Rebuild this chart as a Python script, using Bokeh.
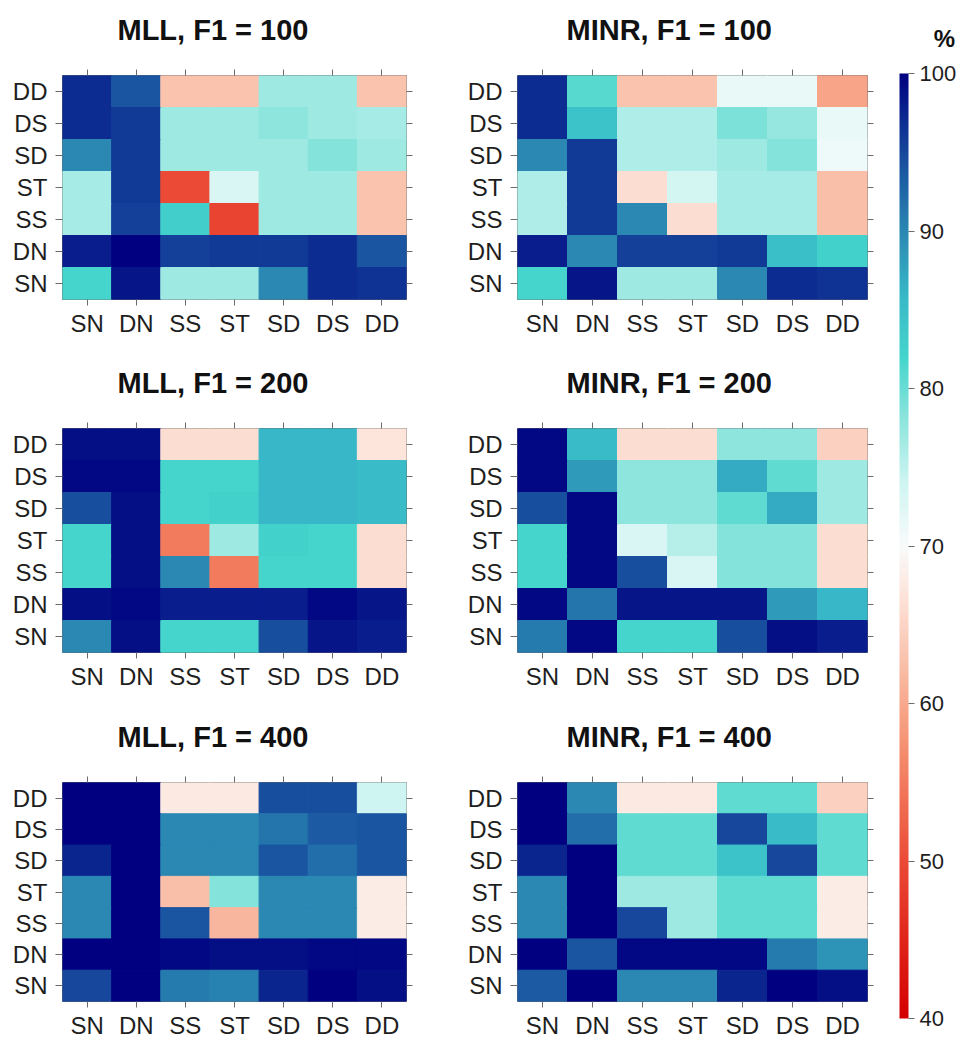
from bokeh.plotting import figure
from bokeh.models import (FactorRange, Range1d, LinearColorMapper, ColorBar,
                          FixedTicker, CategoricalAxis, ColumnDataSource, Label)
from bokeh.layouts import row, column
from bokeh.embed import file_html
from bokeh.resources import INLINE

# Transition states, in axis order (x left->right, y bottom->top)
states = ["SN", "DN", "SS", "ST", "SD", "DS", "DD"]

# Percentages; each matrix lists rows from the top (DD) down to SN,
# columns SN, DN, SS, ST, SD, DS, DD
mll_100 = [
    [97.0, 94.0, 63.0, 63.0, 77.0, 77.0, 63.0],
    [97.0, 96.0, 77.0, 77.0, 78.0, 77.0, 76.5],
    [90.0, 96.0, 77.0, 77.0, 77.0, 78.5, 77.0],
    [76.5, 96.0, 50.0, 73.0, 77.0, 77.0, 63.0],
    [76.5, 95.5, 83.0, 49.0, 77.0, 77.0, 63.0],
    [98.0, 100.0, 95.5, 96.0, 96.0, 97.0, 94.0],
    [82.0, 98.5, 77.0, 77.0, 90.0, 97.0, 96.5],
]
minr_100 = [
    [97.0, 81.0, 63.0, 63.0, 71.5, 71.5, 59.5],
    [97.0, 84.5, 76.0, 76.0, 79.0, 77.5, 71.5],
    [90.0, 96.0, 76.0, 76.0, 77.0, 78.5, 71.0],
    [76.0, 96.0, 66.0, 73.5, 76.5, 76.5, 62.5],
    [76.0, 96.0, 90.0, 66.0, 76.5, 76.5, 62.5],
    [98.0, 90.0, 95.5, 95.5, 96.0, 85.0, 82.5],
    [82.0, 98.5, 77.0, 77.0, 90.0, 97.0, 96.5],
]
mll_200 = [
    [99.0, 99.0, 66.0, 66.0, 86.0, 86.0, 67.0],
    [99.5, 99.5, 82.0, 82.0, 86.0, 86.0, 85.5],
    [94.5, 99.0, 82.0, 82.5, 86.0, 86.0, 85.5],
    [82.0, 99.0, 55.0, 77.0, 82.5, 82.0, 66.0],
    [82.0, 99.0, 90.0, 55.0, 82.0, 82.0, 66.0],
    [99.0, 99.5, 98.0, 98.0, 98.0, 99.5, 98.5],
    [90.0, 99.0, 82.0, 82.0, 94.5, 98.5, 98.0],
]
minr_200 = [
    [99.5, 85.5, 66.0, 66.0, 78.0, 78.0, 64.5],
    [99.5, 88.5, 78.0, 78.0, 87.0, 80.5, 77.0],
    [94.5, 99.5, 78.0, 78.0, 80.5, 87.0, 77.0],
    [82.0, 99.5, 73.0, 75.5, 78.5, 78.5, 66.0],
    [82.0, 99.5, 94.5, 73.0, 78.5, 78.5, 66.0],
    [99.5, 91.5, 98.5, 98.5, 98.5, 88.5, 86.0],
    [91.0, 99.5, 82.0, 82.0, 94.5, 99.0, 98.0],
]
mll_400 = [
    [100.0, 100.0, 67.5, 67.5, 94.5, 94.5, 74.0],
    [100.0, 100.0, 90.0, 90.0, 91.5, 93.5, 94.0],
    [97.5, 100.0, 90.0, 90.0, 94.0, 92.0, 94.0],
    [90.0, 100.0, 62.5, 78.5, 90.0, 90.0, 68.0],
    [90.0, 100.0, 94.0, 61.5, 90.0, 90.0, 68.0],
    [100.0, 100.0, 99.5, 99.0, 99.0, 99.5, 99.5],
    [95.0, 100.0, 91.0, 90.5, 97.5, 100.0, 99.0],
]
minr_400 = [
    [100.0, 90.0, 67.5, 67.5, 80.5, 80.5, 64.5],
    [100.0, 92.0, 80.5, 80.5, 95.0, 85.5, 80.5],
    [97.5, 100.0, 80.5, 80.5, 84.5, 95.0, 80.5],
    [90.0, 100.0, 77.0, 77.0, 80.5, 80.5, 68.0],
    [90.0, 100.0, 95.0, 77.0, 80.5, 80.5, 68.0],
    [100.0, 94.0, 99.5, 99.5, 99.5, 91.0, 89.0],
    [93.5, 100.0, 90.0, 90.0, 97.5, 100.0, 99.0],
]
titles = ["MLL, F1 = 100", "MINR, F1 = 100",
          "MLL, F1 = 200", "MINR, F1 = 200",
          "MLL, F1 = 400", "MINR, F1 = 400"]
scale_ticks = [40, 50, 60, 70, 80, 90, 100]

FONT = "Liberation Sans"

# Diverging red -> white -> turquoise -> navy ramp over 40..100 %
ramp = [
    (40, "#d40000"), (50, "#eb4b36"), (57, "#f58e6e"), (62, "#f9bba3"),
    (67, "#fde5dc"), (70, "#f8fbfb"), (74, "#cff5f2"), (78, "#8de5dd"),
    (82, "#45d5cc"), (86, "#37b7c7"), (90, "#2a88b3"), (94, "#1a55a1"),
    (97, "#0d2c92"), (100, "#000080"),
]


def _rgb(h):
    return tuple(int(h[i:i + 2], 16) for i in (1, 3, 5))


def build_palette(n=601):
    out = []
    for i in range(n):
        v = 40 + 60 * i / (n - 1)
        for (v0, c0), (v1, c1) in zip(ramp[:-1], ramp[1:]):
            if v0 <= v <= v1:
                t = (v - v0) / (v1 - v0)
                a, b = _rgb(c0), _rgb(c1)
                rgb = [round(a[k] + (b[k] - a[k]) * t) for k in range(3)]
                out.append("#%02x%02x%02x" % tuple(rgb))
                break
    return out


mapper = LinearColorMapper(palette=build_palette(), low=40, high=100)


def tick_only_axis(tick_len, tick_color):
    return CategoricalAxis(major_label_text_font_size="1px",
                           major_label_text_color=None,
                           major_label_standoff=0,
                           axis_line_color=None,
                           major_tick_in=0, major_tick_out=tick_len,
                           major_tick_line_color=tick_color)


def panel(name, matrix, frame_w, b_left, b_right, height, b_top, b_bottom,
          title_shift):
    xs, ys, vs = [], [], []
    for r, row_vals in enumerate(matrix):
        for c, v in enumerate(row_vals):
            xs.append(states[c])
            ys.append(states[len(states) - 1 - r])
            vs.append(v)
    src = ColumnDataSource(dict(x=xs, y=ys, v=vs))

    p = figure(x_range=FactorRange(factors=states),
               y_range=FactorRange(factors=states),
               width=b_left + frame_w + b_right, height=height,
               min_border_left=b_left, min_border_right=b_right,
               min_border_top=b_top, min_border_bottom=b_bottom,
               toolbar_location=None, tools="", output_backend="svg")
    p.rect(x="x", y="y", width=1, height=1, source=src,
           fill_color={"field": "v", "transform": mapper},
           line_color={"field": "v", "transform": mapper}, line_width=1)

    p.grid.grid_line_color = None
    p.outline_line_color = "#6b6b6b"
    p.outline_line_width = 1
    p.background_fill_color = "white"

    for ax in (p.below[0], p.left[0]):
        ax.axis_line_color = None
        ax.major_tick_line_color = "#6b6b6b"
        ax.major_tick_in = 0
        ax.major_tick_out = 6
        ax.major_label_text_font = FONT
        ax.major_label_text_font_size = "24px"
        ax.major_label_text_color = "#1e1e1e"
    p.below[0].major_label_standoff = 4
    p.left[0].major_label_standoff = 8
    p.left[0].major_tick_out = 7

    # tick marks on the top and right edges, then a blank strip that
    # keeps the title clear of the frame
    p.add_layout(tick_only_axis(6, "#6b6b6b"), "above")
    p.add_layout(tick_only_axis(24, None), "above")
    p.add_layout(tick_only_axis(6, "#6b6b6b"), "right")

    p.title.text = name
    p.title.text_font = FONT
    p.title.text_font_style = "bold"
    p.title.text_font_size = "29px"
    p.title.text_color = "#111111"
    p.title.align = "left"
    p.title.offset = title_shift
    p.title.standoff = 0
    return p


mats = [mll_100, minr_100, mll_200, minr_200, mll_400, minr_400]
rows_geom = [(353, 75, 54), (353, 75, 54), (335, 76, 34)]
grid_rows = []
for i, (h, bt, bb) in enumerate(rows_geom):
    left = panel(titles[2 * i], mats[2 * i], 344, 62, 45, h, bt, bb, 55)
    right = panel(titles[2 * i + 1], mats[2 * i + 1], 350, 66, 12, h, bt, bb, 49)
    grid_rows.append(row(left, right))

# Colour scale strip
cb_w = 91
cb_fig = figure(width=cb_w, height=1041, x_range=Range1d(0, cb_w),
                y_range=Range1d(0, 1041), x_axis_type=None, y_axis_type=None,
                min_border=0, toolbar_location=None, tools="",
                output_backend="svg")
cb_fig.outline_line_color = None
cb_fig.grid.grid_line_color = None
bar = ColorBar(color_mapper=mapper, location=(20, 23), width=9, height=945,
               ticker=FixedTicker(ticks=scale_ticks),
               major_tick_in=0, major_tick_out=6,
               major_tick_line_color="#6b6b6b",
               major_label_text_font=FONT, major_label_text_font_size="22px",
               major_label_text_color="#1e1e1e",
               label_standoff=5, padding=0, margin=0,
               background_fill_color=None, border_line_color=None,
               bar_line_color=None)
cb_fig.add_layout(bar, "center")
cb_fig.add_layout(Label(x=65, y=1003, text="%", text_font=FONT,
                        text_font_style="bold", text_font_size="24px",
                        text_align="center", text_baseline="middle",
                        text_color="#111111"))

layout = row(column(*grid_rows), cb_fig)

with open("out.html", "w") as f:
    f.write(file_html(layout, INLINE))
